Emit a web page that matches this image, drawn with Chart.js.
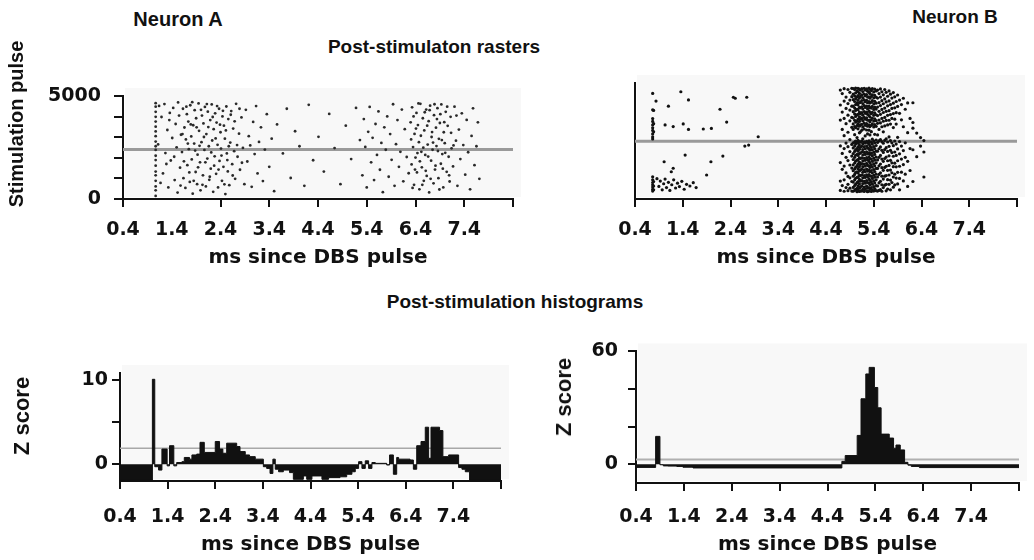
<!DOCTYPE html>
<html>
<head>
<meta charset="utf-8">
<script src="https://cdn.jsdelivr.net/npm/chart.js@4.4.1/dist/chart.umd.min.js"></script>
<style>
  body { margin: 0; background: #fff; }
  #wrap { position: relative; width: 1034px; height: 560px; overflow: hidden;
          font-family: "Liberation Sans", Arial, sans-serif; font-weight: bold; color: #111; }
  canvas { position: absolute; }
  .lbl { position: absolute; white-space: nowrap; line-height: 1; transform: translate(-50%, -50%); }
  .rot { transform: translate(-50%, -50%) rotate(-90deg); }
</style>
</head>
<body>
<div id="wrap">
  <canvas id="rasterA" width="530" height="210" style="left:0;top:70px"></canvas>
  <canvas id="rasterB" width="504" height="220" style="left:530px;top:60px"></canvas>
  <canvas id="histA" width="530" height="210" style="left:0;top:350px"></canvas>
  <canvas id="histB" width="504" height="230" style="left:530px;top:330px"></canvas>

  <div class="lbl" style="left:178px;top:19px;font-size:20px">Neuron A</div>
  <div class="lbl" style="left:434px;top:46px;font-size:19px">Post-stimulaton rasters</div>
  <div class="lbl" style="left:955px;top:16px;font-size:19px">Neuron B</div>
  <div class="lbl" style="left:515px;top:301px;font-size:19px">Post-stimulation histograms</div>
  <div class="lbl rot" style="left:16px;top:124px;font-size:20px">Stimulation pulse</div>
  <div class="lbl rot" style="left:22px;top:416px;font-size:22px">Z score</div>
  <div class="lbl rot" style="left:564px;top:397px;font-size:22px">Z score</div>
</div>

<script>
// axis ticks
const msTicks = [0.4, 1.4, 2.4, 3.4, 4.4, 5.4, 6.4, 7.4, 8.4];
const msLabels = ['0.4', '1.4', '2.4', '3.4', '4.4', '5.4', '6.4', '7.4', ''];
const pulseTicks = [0, 1000, 2000, 3000, 4000, 5000];
const pulseLabels = ['0', '', '', '', '', '5000'];
const zTicksA = [0, 5, 10];
const zLabelsA = ['0', '', '10'];
const zTicksB = [0, 20, 40, 60];
const zLabelsB = ['0', '', '', '60'];

// horizontal reference lines
const splitPulseA = 2400;
const splitPulseB = 2840;
const zLimitA = 1.9;
const zLimitB = 2.5;

// Neuron A raster: [ms, pulse]
const rasterA = [
  [1.07,150],[1.07,420],[1.07,610],[1.07,880],[1.07,1150],[1.07,1330],[1.07,1620],[1.07,1890],[1.07,2100],[1.07,2380],
  [1.07,2560],[1.07,2790],[1.07,3050],[1.07,3280],[1.07,3510],[1.07,3760],[1.07,3990],[1.07,4230],[1.07,4480],[1.07,4650],
  [1.14,4520],[1.19,3980],[1.22,1240],[1.25,4610],[1.27,2230],[1.31,3350],[1.33,560],[1.36,4180],[1.38,1870],[1.41,2960],
  [1.43,4420],[1.46,920],[1.48,3640],[1.50,2510],[1.52,310],[1.55,4050],[1.57,1520],[1.59,3120],[1.12,2650],[1.17,780],
  [1.29,1700],[1.45,2050],[1.53,4690],[1.58,650],[1.35,3830],
  [1.61,2280],[1.63,4380],[1.64,1010],[1.66,3470],[1.68,540],[1.69,2890],[1.71,4120],[1.72,1640],[1.74,3760],[1.75,2420],
  [1.77,830],[1.78,4550],[1.80,3040],[1.81,1920],[1.83,260],[1.84,3580],[1.86,2690],[1.87,4310],[1.89,1310],[1.90,3920],
  [1.92,720],[1.93,2150],[1.95,4640],[1.96,3310],[1.98,1780],[1.99,420],[2.01,2760],[2.02,4050],[2.04,1150],[2.05,3670],
  [2.07,2380],[2.08,4470],[2.10,610],[2.11,3150],[2.13,1960],[2.14,4240],[2.16,2560],[2.17,930],[2.19,3830],[2.20,1470],
  [2.22,4590],[2.23,2840],[2.25,350],[2.26,3390],[2.28,2070],[2.29,4160],[2.31,1220],[2.32,3710],[2.34,2630],[2.35,560],
  [2.37,4380],[2.38,1850],[2.40,3240],[2.41,2450],[2.43,880],[2.44,4010],[2.46,1560],[2.47,3560],[2.49,2930],[2.50,240],
  [2.52,4490],[2.53,2210],[2.55,1340],[2.56,3880],[2.58,670],[2.60,2740],[2.62,4270],[2.64,1690],[2.66,3420],[2.68,2320],
  [2.70,980],[2.72,4620],[2.75,2050],[2.78,3170],[2.80,1420],[2.83,3960],[2.86,2480],[2.89,720],
  [1.62,3150],[1.65,1830],[1.70,4480],[1.73,2690],[1.76,1290],[1.79,3620],[1.82,4700],[1.85,880],[1.88,2350],[1.91,3480],
  [1.94,1540],[1.97,2580],[2.00,4330],[2.03,690],[2.06,3010],[2.09,1780],[2.12,4610],[2.15,3490],[2.18,1080],[2.21,2260],
  [2.24,3980],[2.27,1620],[2.30,2940],[2.33,4510],[2.36,1430],[2.39,3610],[2.42,2110],[2.45,4280],[2.48,710],[2.51,3330],
  [2.54,1890],[2.57,2560],[2.61,4090],[2.65,1140],[2.69,3770],[2.74,2620],[2.79,4380],[2.84,1760],
  [2.92,4330],[2.95,1820],[2.98,3050],[3.01,2600],[3.04,590],[3.07,3740],[3.10,2180],[3.13,4510],[3.16,1240],[3.19,2770],
  [3.23,3480],[3.27,870],[3.31,2400],[3.35,4120],[3.40,1560],[3.45,2930],[3.50,380],[3.56,3620],
  [3.68,2210],[3.76,4380],[3.84,1020],[3.93,3290],[4.02,2560],[4.12,640],[4.21,4570],[4.30,1880],[4.41,3020],[4.52,1330],
  [4.63,4130],[4.74,2470],[4.86,720],[4.97,3560],[5.08,1940],[5.18,4420],[5.26,2860],
  [5.31,1150],[5.34,3880],[5.37,2530],[5.40,560],[5.43,3260],[5.46,4470],[5.49,1780],[5.52,2970],[5.55,920],[5.58,3640],
  [5.61,2140],[5.64,4250],[5.67,1420],[5.70,2720],[5.73,330],[5.76,3480],[5.79,2390],[5.82,4010],[5.85,1080],[5.88,3150],
  [5.91,1900],[5.94,4600],[5.97,640],[6.00,2660],[6.03,3830],[6.06,1560],[6.09,2290],[6.12,4340],[6.15,860],[6.18,3390],
  [6.22,2040],[6.26,1250],
  [6.30,3720],[6.32,1680],[6.33,4450],[6.35,2520],[6.37,690],[6.38,3160],[6.40,2010],[6.42,4180],[6.43,1290],[6.45,3590],
  [6.47,2760],[6.48,470],[6.50,4620],[6.52,2290],[6.53,1540],[6.55,3920],[6.57,880],[6.58,3330],[6.60,2140],[6.62,4340],
  [6.63,1120],[6.65,2640],[6.67,3780],[6.68,320],[6.70,4530],[6.72,1860],[6.73,3010],[6.75,2390],[6.77,760],[6.78,4070],
  [6.80,1430],[6.82,3460],[6.83,2570],[6.85,4410],[6.87,1010],[6.88,2920],[6.90,3690],[6.92,1710],[6.93,4590],[6.95,2180],
  [6.97,560],[6.98,3240],[7.00,2710],[7.02,4230],[7.04,1320],[7.06,3550],[7.08,2050],[7.10,850],[7.12,3990],[7.14,2460],
  [7.17,1580],[7.20,4480],[7.23,2830],[7.26,640],[7.29,3370],[7.32,1940],[7.35,4160],[7.38,2620],
  [6.31,2890],[6.34,540],[6.36,4010],[6.39,1430],[6.41,3420],[6.44,2230],[6.46,4640],[6.49,1830],[6.51,3070],[6.54,690],
  [6.56,2490],[6.59,4210],[6.61,1370],[6.64,3560],[6.66,2060],[6.69,4310],[6.71,980],[6.74,3250],[6.76,2740],[6.79,4600],
  [6.81,1620],[6.84,3880],[6.86,2330],[6.89,460],[6.91,4120],[6.94,2860],[6.96,1470],[6.99,3730],[7.01,2240],[7.05,4480],
  [7.09,1150],[7.13,3210],[7.18,2600],[7.24,4050],
  [7.42,1180],[7.45,3840],[7.48,2270],[7.52,470],[7.55,3060],[7.58,4400],[7.61,1640],[7.65,2560],[7.68,3720],[7.71,980]
];

// Neuron B raster, scattered spikes: [ms, pulse]
const rasterBSparse = [
  [0.86,1000],[0.90,620],[0.93,880],[0.97,450],[1.00,750],[1.03,980],[1.06,560],[1.10,820],[1.13,420],[1.17,700],
  [1.21,940],[1.25,540],[1.29,780],[1.33,610],[1.38,870],[1.43,480],[1.48,720],[1.55,640],[1.62,800],[1.68,560],
  [1.01,1830],[1.20,1510],[1.16,1340],[1.90,1180],[1.99,1830],[2.24,2110],[1.45,2160],
  [1.36,5270],[1.52,4870],[2.46,5000],[2.50,4950],[2.74,5000],[2.18,4410],[2.32,3780],[2.00,3470],[1.83,3440],
  [1.52,3420],[1.41,3690],[1.03,3640],[1.20,3560],[2.98,3060],[2.70,2600],[2.78,2650],[0.84,4810],[1.10,4560]
];

// Neuron B raster, spike columns: [ms, pulses]
const rasterBColumns = [
  [0.77, [5190,4380,3950,3810,3640,3500,3370,3200,3050,2950,1090,940,810,700,590,480,390]],
  [0.79, [4350,3700,3300,860,640,450]],
  [4.70, [5350,4620,3880,2610,1790,880,420]],
  [4.74, [5180,4270,3420,2240,1460,660]],
  [4.78, [5420,4810,3960,3110,2480,1620,940,380]],
  [4.82, [5010,4450,3700,2750,2050,1280,560]],
  [4.86, [5380,4690,4120,3280,2570,1890,1110,720,410]],
  [4.90, [5240,4860,4370,3840,2920,2330,1670,1040,530]],
  [4.94, [5440,5030,4560,4010,3520,2680,2110,1520,860,390]],
  [4.97, [5430,5150,4880,4560,4290,3980,3690,3420,2760,2510,2230,1940,1680,1390,1120,830,570,380]],
  [5.00, [5380,5060,4790,4470,4180,3870,3560,3160,2800,2600,2340,2050,1770,1480,1210,940,660,420]],
  [5.02, [5450,5210,4930,4640,4350,4060,3780,3500,2840,2700,2420,2150,1860,1560,1300,1020,730,470]],
  [5.05, [5320,5010,4720,4410,4130,3840,3610,3020,2780,2480,2200,1910,1630,1340,1060,800,520,360]],
  [5.07, [5440,5270,5080,4850,4620,4390,4160,3930,3700,3450,2880,2740,2560,2350,2140,1930,1710,1490,1280,1070,850,640,430]],
  [5.10, [5400,5190,4960,4730,4500,4270,4040,3810,3580,3250,2820,2650,2440,2230,2020,1810,1590,1380,1170,960,740,530,370]],
  [5.12, [5350,5040,4750,4480,4190,3920,3640,3300,2790,2540,2260,1990,1700,1430,1150,880,600,400]],
  [5.15, [5420,5120,4840,4530,4240,3960,3670,3380,2850,2590,2310,2020,1740,1460,1180,900,630,390]],
  [5.17, [5280,4980,4690,4420,4120,3850,3540,2960,2720,2430,2160,1870,1590,1310,1040,760,480]],
  [5.20, [5440,5160,4870,4590,4300,4010,3730,3440,2810,2570,2290,2000,1720,1430,1150,870,590,370]],
  [5.22, [5360,5070,4780,4500,4210,3920,3620,3100,2750,2470,2190,1900,1620,1340,1060,780,500]],
  [5.25, [5410,5130,4850,4560,4270,3990,3700,3390,2830,2600,2320,2030,1750,1470,1190,910,630,400]],
  [5.27, [5300,5010,4730,4440,4160,3870,3580,3200,2770,2500,2210,1930,1650,1370,1090,810,530,360]],
  [5.30, [5450,5240,5020,4790,4560,4330,4100,3870,3640,3380,2860,2690,2480,2270,2060,1850,1630,1420,1200,990,780,560,380]],
  [5.32, [5390,5180,4950,4720,4490,4260,4030,3800,3560,3150,2800,2610,2400,2190,1980,1770,1550,1340,1130,920,700,490]],
  [5.35, [5330,5040,4760,4470,4190,3900,3620,3310,2790,2530,2250,1960,1680,1400,1120,840,560,370]],
  [5.37, [5420,5120,4830,4550,4260,3980,3690,2940,2700,2420,2130,1850,1570,1290,1010,730,450]],
  [5.40, [5260,4970,4680,4400,4110,3830,3540,2850,2580,2300,2010,1730,1450,1170,890,610,390]],
  [5.42, [5400,5090,4800,4510,4230,3940,3650,3180,2760,2480,2190,1910,1630,1350,1070,790,510]],
  [5.45, [5310,5000,4710,4420,4140,3850,3570,2900,2630,2350,2060,1780,1500,1220,940,660,410]],
  [5.48, [5350,4960,4520,4100,3720,3150,2780,2350,1920,1500,1080,640,390]],
  [5.51, [5180,4740,4310,3880,3420,2860,2470,2050,1630,1210,790,420]],
  [5.54, [5410,5010,4590,4160,3740,2920,2560,2140,1720,1290,870,460]],
  [5.57, [5270,4830,4400,3960,3550,2820,2390,1960,1540,1120,700,380]],
  [5.60, [5120,4680,4250,3820,3300,2740,2290,1850,1410,980,560]],
  [5.63, [5380,4920,4470,4010,3590,2880,2430,1990,1550,1120,680]],
  [5.66, [5240,4770,4310,3860,2950,2520,2060,1610,1150,720,400]],
  [5.69, [5050,4580,4110,3640,2800,2340,1880,1410,950,490]],
  [5.72, [5310,4820,4340,3870,3050,2590,2120,1650,1180,720]],
  [5.75, [5150,4640,4150,3680,2870,2390,1900,1420,930,450]],
  [5.78, [4960,4450,3960,2760,2280,1780,1290,810]],
  [5.81, [5230,4710,4200,3510,2620,2100,1590,1080,580]],
  [5.84, [5020,4480,3920,2850,2310,1760,1220,690]],
  [5.87, [4790,4240,3680,2700,2140,1580,1030]],
  [5.90, [5110,4550,3030,2460,1880,1310,740]],
  [5.94, [4860,4210,2820,2220,1610,1010,450]],
  [5.98, [4640,3890,2600,1960,1320]],
  [6.02, [4950,3550,2380,1690,890]],
  [6.06, [4410,2760,2050,1220]],
  [6.11, [4720,3260,1850,620]],
  [6.16, [3960,2480,1400]],
  [6.22, [4730,3760,3480,2420,860]],
  [6.30, [3240,2080]],
  [6.38, [3020,2600]],
  [6.45, [2870,2310,1080]]
];

// Neuron A histogram: left bin edge (ms) and Z score
const histAEdges = [0.40,1.08,1.13,1.21,1.28,1.39,1.44,1.53,1.59,1.70,1.75,1.86,1.91,2.01,2.08,2.17,2.40,2.49,2.56,2.64,
  2.85,2.92,3.03,3.12,3.24,3.41,3.48,3.55,3.61,3.66,3.73,3.83,3.96,4.04,4.25,4.32,4.43,4.64,4.78,5.02,
  5.16,5.27,5.34,5.41,5.48,5.55,5.62,5.69,5.76,6.00,6.06,6.14,6.21,6.25,6.49,6.56,6.63,6.72,6.81,6.88,
  6.93,7.11,7.18,7.30,7.51,7.58,7.65,7.74];
const histAValues = [-1.9,10.1,-0.3,-0.7,1.8,-0.2,2.2,-0.2,0.2,0.3,0.8,0.6,1.1,1.2,2.6,1.4,2.7,1.8,1.3,2.5,
  2.1,1.5,1.1,0.9,0.6,-0.3,-0.5,-1.1,0.6,-0.6,-0.9,-0.7,-1.0,-1.8,-1.4,-1.8,-1.4,-1.8,-1.6,-1.5,
  -1.2,-0.9,-0.5,0.3,-0.5,0.4,-0.5,0.2,0.1,-0.1,1.1,-1.2,0.8,0.6,0.5,-0.6,2.2,2.7,4.4,0.7,
  4.4,4.0,0.9,1.1,-0.4,-0.6,-0.9,-1.9];

// Neuron B histogram: left bin edge (ms) and Z score
const histBEdges = [0.40,0.81,0.90,0.97,1.07,1.25,1.38,1.59,4.70,4.77,5.02,5.10,5.20,5.27,5.38,5.45,5.52,5.69,5.78,5.83,
  5.92,6.01,6.08,6.15,6.32];
const histBValues = [-1.7,14.8,-0.3,-0.9,-1.0,-1.2,-1.6,-2.0,1.5,4.6,15.3,34.8,48.0,51.5,40.8,30.0,16.0,13.9,8.5,10.2,
  7.6,1.0,-0.5,-1.2,-1.8];

const INK = '#111';
const tickFont = { family: 'DejaVu Sans', size: 19, weight: 'bold' };
const yTickFont = { family: 'DejaVu Sans', size: 19, weight: 'bold' };
const titleFont = { family: 'DejaVu Sans', size: 20, weight: 'bold' };

// faint paper behind plot areas
const paper = {
  id: 'paper',
  beforeDraw(chart) {
    const { ctx, chartArea: a } = chart;
    ctx.save();
    ctx.fillStyle = '#f8f8f8';
    ctx.fillRect(a.left + 2, a.top - 8, a.right - a.left + 6, a.bottom - a.top + 6);
    ctx.restore();
  }
};

function stepData(edges, values) {
  const pts = edges.map((x, i) => ({ x, y: values[i] }));
  pts.push({ x: 8.4, y: values[values.length - 1] });
  return pts;
}

function levelLine(y) {
  return [{ x: 0.4, y }, { x: 8.4, y }];
}

function msAxis(height, padding, hideTick) {
  return {
    type: 'linear', min: 0.4, max: 8.4,
    afterBuildTicks: s => { s.ticks = msTicks.map(v => ({ value: v })); },
    afterFit: s => { s.height = height; },
    grid: {
      drawOnChartArea: false, tickLength: 8, lineWidth: 2,
      color: c => (c.tick && c.tick.value === hideTick) ? 'rgba(0,0,0,0)' : INK
    },
    border: { color: INK, width: 2 },
    ticks: { autoSkip: false, maxRotation: 0, padding, color: INK, font: tickFont,
             callback: (v, i) => msLabels[i] },
    title: { display: true, text: 'ms since DBS pulse', color: INK, font: titleFont, padding: 0 }
  };
}

function valueAxis(min, max, ticks, labels, width, tickLength, padding) {
  return {
    min, max,
    afterBuildTicks: s => { s.ticks = ticks.map(v => ({ value: v })); },
    afterFit: s => { s.width = width; },
    grid: { drawOnChartArea: false, tickLength, lineWidth: 2, color: INK },
    border: { color: INK, width: 2 },
    ticks: { autoSkip: false, padding, color: INK, font: yTickFont, callback: (v, i) => labels[i] }
  };
}

function baseOptions(padding, scales) {
  return {
    responsive: false, animation: false, events: [],
    layout: { padding },
    plugins: { legend: { display: false }, tooltip: { enabled: false } },
    scales
  };
}

// Raster: Neuron A
new Chart(document.getElementById('rasterA'), {
  type: 'scatter',
  data: {
    datasets: [
      { data: rasterA.map(([x, y]) => ({ x, y })), pointRadius: 1.4, pointBorderWidth: 0,
        pointBackgroundColor: '#2a2a2a' },
      { type: 'line', data: levelLine(splitPulseA), borderColor: '#9a9a9a', borderWidth: 3, pointRadius: 0 }
    ]
  },
  options: baseOptions({ top: 26, right: 17, bottom: 10, left: 0 }, {
    x: msAxis(71, 12, 1.4),
    y: valueAxis(0, 5000, pulseTicks, pulseLabels, 123, 9, 13)
  }),
  plugins: [paper]
});

// Raster: Neuron B
const rasterBPoints = rasterBSparse.map(([x, y]) => ({ x, y }))
  .concat(rasterBColumns.flatMap(([x, ys]) => ys.map(y => ({ x, y }))));

new Chart(document.getElementById('rasterB'), {
  type: 'scatter',
  data: {
    datasets: [
      { data: rasterBPoints, pointRadius: 1.6, pointBorderWidth: 0, pointBackgroundColor: '#111' },
      { type: 'line', data: levelLine(splitPulseB), borderColor: '#9a9a9a', borderWidth: 3, pointRadius: 0 }
    ]
  },
  options: baseOptions({ top: 23, right: 17, bottom: 10, left: 0 }, {
    x: msAxis(71, 12, null),
    y: {
      min: 0, max: 5700,
      afterFit: s => { s.width = 105; },
      grid: { display: false },
      border: { color: INK, width: 2 },
      ticks: { display: false }
    }
  }),
  plugins: [paper]
});

// Histogram: Neuron A
new Chart(document.getElementById('histA'), {
  type: 'line',
  data: {
    datasets: [
      { data: stepData(histAEdges, histAValues), stepped: true, fill: 'origin',
        borderColor: INK, backgroundColor: INK, borderWidth: 1, pointRadius: 0 },
      { data: levelLine(zLimitA), borderColor: '#a8a8a8', borderWidth: 1.5, pointRadius: 0 }
    ]
  },
  options: baseOptions({ top: 23, right: 29, bottom: 3, left: 0 }, {
    x: msAxis(76, 17, null),
    y: valueAxis(-2, 10.85, zTicksA, zLabelsA, 120, 8, 4)
  }),
  plugins: [paper]
});

// Histogram: Neuron B
new Chart(document.getElementById('histB'), {
  type: 'line',
  data: {
    datasets: [
      { data: stepData(histBEdges, histBValues), stepped: true, fill: 'origin',
        borderColor: INK, backgroundColor: INK, borderWidth: 1, pointRadius: 0 },
      { data: levelLine(zLimitB), borderColor: '#b0b0b0', borderWidth: 2, pointRadius: 0 }
    ]
  },
  options: baseOptions({ top: 16, right: 13, bottom: 3, left: 0 }, {
    x: msAxis(74, 15, null),
    y: valueAxis(-10, 60, zTicksB, zLabelsB, 106, 8, 10)
  }),
  plugins: [paper]
});
</script>
</body>
</html>
